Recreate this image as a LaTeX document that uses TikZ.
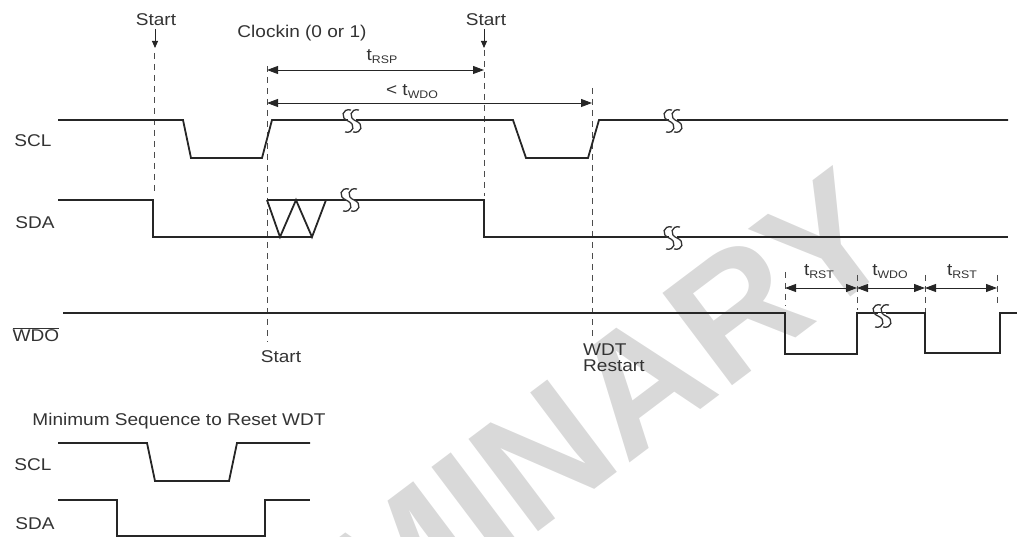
\documentclass[tikz,border=0pt]{standalone}
\usepackage{fontspec}
\setmainfont{Liberation Sans}[FakeStretch=1.12]
\newfontfamily\wmfont{Liberation Sans}
\usetikzlibrary{arrows.meta}
\newcommand{\tsub}[1]{t\raisebox{-3pt}{\fontsize{11}{11}\selectfont #1}}
\begin{document}
\begin{tikzpicture}[x=1pt,y=-1pt,
  sig/.style={line width=1.8pt, draw=black!85, line join=miter},
  vdash/.style={dash pattern=on 6pt off 5pt, line width=1pt, draw=black!70},
  dim/.style={line width=0.9pt, draw=black!85, {Triangle[length=11pt,width=8pt]}-{Triangle[length=11pt,width=8pt]}},
  startarrow/.style={line width=0.9pt, draw=black!85, -{Triangle[length=7pt,width=6pt]}},
  lbl/.style={text=black!80, font=\fontsize{17}{19}\selectfont, inner sep=0pt},
  brkS/.style={line width=1.3pt, draw=black!80},
  brk/.pic={
    \fill[white] (-4,-3) rectangle (4,3);
    \draw[brkS] (-1,-11) .. controls (-10,-13) and (-12,-3) .. (-4,0) .. controls (4,3) and (2,13) .. (-7,11);
    \draw[brkS] (7,-11) .. controls (-2,-13) and (-4,-3) .. (4,0) .. controls (12,3) and (10,13) .. (1,11);
  }]
\useasboundingbox (0,0) rectangle (1017,537);
\begin{scope}
\clip (0,0) rectangle (1017,537);
\node[rotate=37, anchor=base east, text=black!15, inner sep=0pt,
  font=\wmfont\fontsize{168}{168}\selectfont\bfseries] (wm) at (905,256) {PRELIMINARY};
\end{scope}

% labels
\node[lbl] (sclL) at (33,141) {SCL};
\node[lbl] (sdaL) at (35,223) {SDA};
\node[lbl] (wdoL) at (36,335) {$\overline{\mbox{WDO}}$};
\node[lbl] (st1) at (156,20) {Start};
\node[lbl] (clk) at (302,33) {Clockin (0 or 1)};
\node[lbl] (st2) at (486,20) {Start};
\node[lbl] (st3) at (281,357) {Start};
\node[lbl, align=left, anchor=north west] (wdt) at (583,344) {WDT\\[-3pt]Restart};
\node[lbl] (trsp) at (382,57) {\tsub{RSP}};
\node[lbl] (twdo) at (412,92) {< \tsub{WDO}};
\node[lbl] (trst1) at (819,272) {\tsub{RST}};
\node[lbl] (twdo2) at (890,272) {\tsub{WDO}};
\node[lbl] (trst2) at (962,272) {\tsub{RST}};
\node[lbl] (min) at (179,421) {Minimum Sequence to Reset WDT};
\node[lbl] (msclL) at (33,465) {SCL};
\node[lbl] (msdaL) at (35,524) {SDA};

% coordinates
\coordinate (a1s) at (155,29); \coordinate (a1e) at (155,48);
\coordinate (a2s) at (484,29); \coordinate (a2e) at (484,48);
\coordinate (d1t) at (154,53); \coordinate (d1b) at (154,195);
\coordinate (d2t) at (267,66); \coordinate (d2b) at (267,342);
\coordinate (d3t) at (484,50); \coordinate (d3b) at (484,196);
\coordinate (d4t) at (592,88); \coordinate (d4b) at (592,338);
\coordinate (rspA) at (267,70); \coordinate (rspB) at (484,70);
\coordinate (wdoA) at (267,103); \coordinate (wdoB) at (592,103);
\coordinate (k1t) at (785,272); \coordinate (k1b) at (785,306);
\coordinate (k2t) at (857,275); \coordinate (k2b) at (857,310);
\coordinate (k3t) at (925,275); \coordinate (k3b) at (925,312);
\coordinate (k4t) at (997,275); \coordinate (k4b) at (997,306);
\coordinate (r1A) at (785,288); \coordinate (r1B) at (857,288);
\coordinate (r2A) at (857,288); \coordinate (r2B) at (925,288);
\coordinate (r3A) at (925,288); \coordinate (r3B) at (997,288);

% dashed markers
\draw[vdash] (d1t) -- (d1b);
\draw[vdash] (d2t) -- (d2b);
\draw[vdash] (d3t) -- (d3b);
\draw[vdash] (d4t) -- (d4b);
\draw[vdash] (k1t) -- (k1b);
\draw[vdash] (k2t) -- (k2b);
\draw[vdash] (k3t) -- (k3b);
\draw[vdash] (k4t) -- (k4b);

% start arrows
\draw[startarrow] (a1s) -- (a1e);
\draw[startarrow] (a2s) -- (a2e);

% dimension arrows
\draw[dim] (rspA) -- (rspB);
\draw[dim] (wdoA) -- (wdoB);
\draw[dim] (r1A) -- (r1B);
\draw[dim] (r2A) -- (r2B);
\draw[dim] (r3A) -- (r3B);

% SCL
\draw[sig] (58,120) -- (183,120) -- (191,158) -- (262,158) -- (272,120) -- (513,120)
  -- (526,158) -- (588,158) -- (599,120) -- (1008,120);
% SDA
\draw[sig] (58,200) -- (153,200) -- (153,237) -- (312,237);
\draw[sig] (267,200) -- (280,237) -- (296,200) -- (312,237) -- (326,200);
\draw[sig] (267,200) -- (484,200) -- (484,237) -- (1008,237);
% WDO
\draw[sig] (63,313) -- (785,313) -- (785,354) -- (857,354) -- (857,313) -- (925,313)
  -- (925,353) -- (1000,353) -- (1000,313) -- (1017,313);
% breaks
\pic at (352,121) {brk};
\pic at (673,121) {brk};
\pic at (350,200) {brk};
\pic at (673,238) {brk};
\pic at (882,316) {brk};

% minimum sequence
\draw[sig] (58,443) -- (147,443) -- (155,481) -- (229,481) -- (237,443) -- (310,443);
\draw[sig] (58,500) -- (117,500) -- (117,536) -- (265,536) -- (265,500) -- (310,500);
\end{tikzpicture}
\end{document}
